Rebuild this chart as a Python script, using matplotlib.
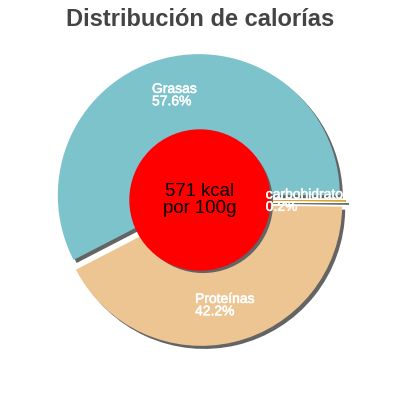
import numpy as np
import matplotlib
matplotlib.use("Agg")
import matplotlib.pyplot as plt
import matplotlib.patheffects as pe
from matplotlib.patches import Circle
from matplotlib.transforms import Bbox, TransformedBbox

# Data
labels = ['Grasas', 'Proteínas', 'carbohidratos']
percent = [57.6, 42.2, 0.2]
colors = ['#7cc3cc', '#edc593', '#d9a520']
kcal_text = '571 kcal\npor 100g'
title = 'Distribución de calorías'

plt.rcParams['font.family'] = ['Liberation Sans', 'DejaVu Sans']

fig = plt.figure(figsize=(4, 4), dpi=100)
ax = fig.add_axes([0, 0, 1, 1])

shadow = [pe.SimplePatchShadow(offset=(2.2, -2.2), shadow_rgbFace='#646464', alpha=1.0), pe.Normal()]

# pie in pixel coordinates, centre at (200, 200); explode is in data units here
wedges, _ = ax.pie(percent, colors=colors, startangle=0, counterclock=True,
                   explode=[5] * 3, radius=141, center=(200, 200),
                   wedgeprops=dict(linewidth=0))
for w in wedges:
    w.set_path_effects(shadow)

# red circle in the middle
hole = Circle((200, 200), 70, color='#ff0000', zorder=5)
hole.set_path_effects(shadow)
ax.add_patch(hole)
ax.text(200, 200, kcal_text, ha='center', va='center', fontsize=13.4,
        color='black', linespacing=0.95, zorder=6)

# slice labels
for w, lab, p in zip(wedges, labels, percent):
    mid = np.deg2rad((w.theta1 + w.theta2) / 2)
    x = 200 + 108 * np.cos(mid)
    y = 200 + 108 * np.sin(mid)
    t = ax.text(x, y, f'{lab}\n{p}%', ha='center', va='center', multialignment='left',
                fontsize=10, color='white', linespacing=0.85, zorder=7,
                path_effects=[pe.withStroke(linewidth=0.4, foreground='white')])
    t.set_clip_on(True)
    t.set_clip_box(TransformedBbox(Bbox([[0, 0], [343, 400]]), ax.transData))

ax.set_xlim(0, 400)
ax.set_ylim(0, 400)
ax.set_aspect('equal')
ax.axis('off')

fig.text(0.5, 1 - 19 / 400, title, ha='center', va='center', fontsize=17,
         fontweight='bold', color='#444444')

fig.savefig('out.png', dpi=100)
